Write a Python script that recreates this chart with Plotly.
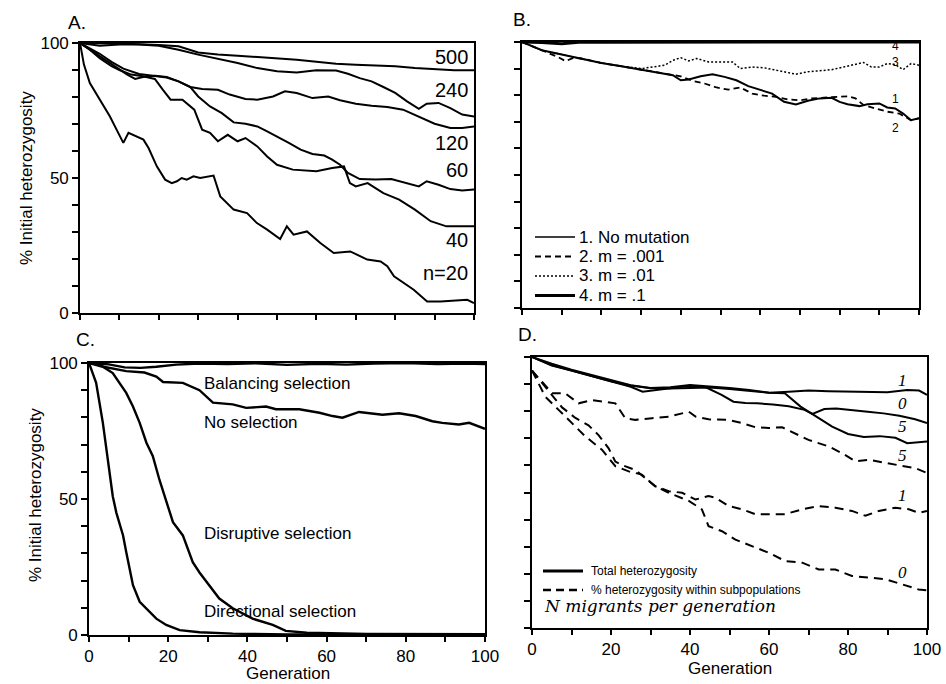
import plotly.graph_objects as go

# ---------------- Panel A: population size ----------------
A_n20_gen = [0, 1, 2.5, 5.1, 7.6, 9.7, 11, 12.3, 14.4, 16.1, 17.4, 19.5, 21.6, 23.3, 24.6, 25.8, 27.1, 28.8, 30.5, 33.9,
             35.6, 39, 42.4, 44.9, 47.5, 50.8, 52.5, 54.2, 57.6, 61, 64.4, 68.6, 72.9, 76.3, 78, 79.7, 84.7, 88.1, 91.5, 98.3, 100]
A_n20 = [100, 92, 85.2, 79, 72.8, 66.7, 63, 66.7, 65.4, 64.2, 61.1, 54.3, 49.4, 48.1, 48.8, 50, 49.4, 50.6, 50, 50.9,
         43.2, 38.3, 37, 33.3, 30.9, 27.4, 32.1, 29, 30.2, 25.9, 22.2, 22.8, 19.8, 19.1, 17.3, 13.6, 8.6, 4.3, 4.3, 4.9, 3.7]

A_n40_gen = [0, 2.5, 5, 8, 10, 13, 16, 19, 21, 23, 26, 29, 31, 33, 35, 37.5, 40, 42, 45, 47.5, 50, 54, 60, 64, 67,
             68.5, 70, 73, 77, 81, 85, 89, 93, 100]
A_n40 = [100, 97.5, 94.4, 91.4, 90, 88.3, 87.7, 86.7, 82.7, 79, 79, 75.3, 67.9, 66.7, 63.6, 66, 63.6, 64.8, 61.7, 58,
         54.9, 53.1, 52.5, 53.7, 54.3, 48.1, 46.9, 48.1, 44.4, 42, 38.3, 34, 32.1, 32.1]

A_n60_gen = [0, 2.5, 5, 8, 11, 15, 19, 22, 25, 28, 30, 33, 36, 39, 42, 45, 47.5, 50, 53, 56, 59, 62, 64, 66, 68, 71,
             75, 79, 83, 86, 88, 91, 94, 97, 100]
A_n60 = [100, 98, 96, 93, 90.5, 88.5, 87.6, 87.2, 85.8, 83.7, 80.2, 76.5, 74, 70.6, 70.1, 69.1, 67.3, 65.4, 63, 60.5,
         58.9, 58.3, 56.8, 54.9, 51.9, 49.6, 49.4, 49.6, 47.9, 46.9, 48.8, 47.5, 45.9, 45.4, 45.7]

A_n120_gen = [0, 2.5, 5, 8, 10, 12, 14, 16, 19, 22, 25, 28, 31, 35, 38, 42, 45, 49, 52, 55, 59, 63, 66, 70, 74, 78,
              82, 86, 90, 94, 97, 100]
A_n120 = [100, 97.5, 95, 92, 90, 88.3, 86.7, 87.4, 87.9, 87.4, 85.8, 83.7, 83, 82.7, 80.9, 79.3, 79, 80.2, 82.1, 81.5,
          79.6, 80.2, 78.8, 77.5, 76.8, 76.3, 75.3, 72.8, 70.1, 68.5, 68.5, 69.1]

A_n240_gen = [0, 5, 10, 15, 20, 25, 30, 35, 40, 45, 50, 55, 60, 65, 68, 71, 74, 77, 80, 83, 86, 88, 91, 94, 97, 100]
A_n240 = [100, 99, 99.4, 99.4, 99, 97.5, 95.7, 94.1, 92.6, 90.7, 89.5, 89.1, 89.9, 89.8, 88.6, 87, 85.8, 83.7, 81.5,
          78.4, 75.6, 77.5, 77.8, 75.9, 73.5, 72.8]

A_n500_gen = [0, 10, 20, 25, 30, 35, 40, 45, 50, 55, 60, 65, 70, 75, 80, 85, 90, 95, 100]
A_n500 = [100, 99.8, 99.3, 98.8, 96.5, 95.7, 95.3, 94.8, 94.4, 93.8, 93.1, 92.3, 91.9, 91.6, 91.4, 90.7, 90.4, 89.9, 89.9]

A_labels = ["500", "240", "120", "60", "40", "n=20"]
A_label_y = [94.8, 82.6, 63, 53, 27, 14.8]

# ---------------- Panel B: mutation ----------------
B_m0_gen = [0, 5, 10, 15, 20, 25, 30, 35, 38, 40, 42, 45, 48, 51, 54, 57, 60, 63, 66, 69, 72, 75, 78, 80, 82, 85, 87,
            90, 92, 94, 96, 98, 100]
B_m0 = [100, 96.9, 95.3, 93.8, 92.1, 90.9, 89.6, 88.4, 87.5, 85.6, 85.9, 87.1, 87.9, 86.9, 85.6, 83.4, 81.9, 80.6, 77.5,
        76.5, 77.9, 78.8, 79, 77.5, 76.6, 75.9, 76.6, 76.9, 75.4, 75, 73.1, 70.6, 71.3]

B_m001_gen = [0, 5, 9, 11, 13, 15, 20, 25, 30, 35, 38, 40, 43, 46, 49, 52, 55, 58, 61, 64, 67, 70, 73, 76, 79, 82, 84,
              86, 89, 92, 95, 98, 100]
B_m001 = [100, 96.9, 94.4, 92.8, 94.1, 93.8, 92.1, 90.9, 89.6, 88.4, 87.5, 87.1, 85.4, 84.4, 82.9, 82.1, 82.9, 80.6,
          79.8, 79.4, 78.4, 78.1, 78.8, 79.1, 79.4, 79.6, 78.8, 76.3, 75, 73.8, 73.1, 70.6, 71.3]

B_m01_gen = [0, 5, 10, 15, 20, 25, 30, 33, 36, 38, 40, 42, 44, 47, 50, 53, 55, 58, 61, 64, 66, 69, 72, 75, 78, 81, 84,
             86, 88, 90, 92, 94, 96, 98, 100]
B_m01 = [100, 96.9, 95.3, 93.8, 92.1, 90.9, 90, 90.6, 91.3, 93.1, 94.1, 92.9, 93.8, 92.5, 92.4, 92.5, 90, 90.6, 90.3,
         89.4, 88.8, 87.9, 88.8, 89.1, 89.6, 90.6, 91.6, 92.3, 90.6, 90.6, 91.9, 91.5, 89.6, 91.9, 91.3]

B_m1_gen = [0, 5, 10, 12, 15, 20, 40, 60, 80, 100]
B_m1 = [100, 99.8, 99.3, 99.5, 100, 99.9, 100, 100, 100, 100]

B_legend = ["1. No mutation", "2. m = .001", "3. m = .01", "4. m = .1"]
B_curve_labels = ["4", "3", "1", "2"]
B_label_y = [98.6, 92.6, 78.6, 67.7]

# ---------------- Panel C: selection ----------------
C_bal_gen = [0, 5, 9, 13, 17, 22, 28, 35, 42, 50, 58, 65, 72, 80, 88, 95, 100]
C_bal = [100, 99.5, 98.4, 98.2, 98.6, 99.4, 99.8, 99.6, 99.9, 99.3, 99.7, 99.4, 99.8, 100, 99.6, 99.8, 99.6]

C_none_gen = [0, 3, 9.4, 14, 17, 18.7, 23.7, 27.9, 31.3, 36.3, 39.7, 44.7, 47.2, 53.1, 58.2, 61.5, 64, 68.2, 74.1,
              78.3, 82.5, 86.7, 89.2, 93.4, 96, 100]
C_none = [100, 98.8, 97, 96.5, 95, 93, 92.7, 90, 85.4, 84.8, 83.5, 84, 83, 83, 81.7, 80.5, 79.9, 82, 81, 81.5, 80.5,
          78.6, 78, 77.4, 78, 75.8]

C_disr_gen = [0, 2.7, 6, 9.4, 11.1, 12.8, 14.5, 16.1, 17.8, 19.5, 21.2, 23.7, 26.2, 27.9, 30.4, 32.9, 36.3, 41.3,
              46.4, 49.7, 55, 70, 100]
C_disr = [100, 99.4, 96.3, 89, 84, 78, 70.7, 65.8, 57, 48.8, 41.5, 36.6, 26.8, 23, 18, 13.4, 9.8, 6, 3.7, 1.5, 0.8,
          0.4, 0.3]

C_dirn_gen = [0, 1.8, 3.5, 4.4, 5.2, 6, 6.9, 8.6, 9.4, 10.3, 11.1, 12.8, 14.5, 17, 19.5, 22.9, 27.9, 36.3, 50, 100]
C_dirn = [100, 92.7, 78, 68, 59.8, 51, 45, 36.6, 30.5, 24.4, 18.3, 12.2, 9.8, 6, 3.7, 1.8, 1, 0.5, 0.2, 0.2]

C_labels = ["Balancing selection", "No selection", "Disruptive selection", "Directional selection"]
C_label_y = [92.6, 78.3, 37.5, 8.5]

# ---------------- Panel D: migration ----------------
D_tot1_gen = [0, 5, 10, 15, 20, 25, 30, 35, 40, 45, 50, 55, 60, 65, 70, 75, 80, 85, 90, 95, 98, 100]
D_tot1 = [100, 97.5, 95.3, 93.4, 91.5, 89.6, 88.6, 88.8, 89.7, 89.2, 88.6, 87.8, 86.8, 87.2, 87.6, 87.4, 87.2, 87,
          87, 87.8, 87.6, 86]

D_tot0_gen = [0, 5, 10, 15, 20, 25, 28, 32, 36, 40, 44, 48, 51, 54, 57, 61, 65, 69, 71, 74, 77, 81, 85, 89, 93, 97, 100]
D_tot0 = [100, 96.8, 95, 93, 91, 89, 87.2, 88, 88.6, 89.4, 88.8, 86, 83.5, 83, 82.9, 82.5, 81.8, 80.5, 79, 80.8, 81,
          80.3, 79.8, 79.2, 78.3, 77, 75.6]

D_tot5_gen = [0, 5, 10, 15, 20, 25, 30, 35, 40, 45, 50, 55, 60, 64, 68, 72, 76, 80, 84, 88, 92, 95, 98, 100]
D_tot5 = [100, 97, 95, 93, 91, 89.5, 88.5, 88.4, 88.6, 88.7, 88.2, 87.4, 86.8, 86.6, 81.7, 78, 74.3, 71.6, 70.5,
          70.8, 70.2, 68.2, 68.6, 68.8]

D_sub5_gen = [0, 5.1, 8.4, 11.8, 15.2, 17.7, 21.1, 23.6, 26.2, 30.4, 34.6, 38, 39.7, 41.4, 44.7, 49.8, 53.2, 56.5,
              59.9, 63.3, 66.7, 70, 75.1, 78.5, 81.9, 85.2, 89.5, 93.7, 97, 100]
D_sub5 = [95, 86.6, 86.6, 82.9, 84.1, 83.5, 82.9, 77.4, 76.8, 77.4, 78, 79.2, 79.8, 78, 77, 76.8, 75.6, 74.1, 73.8,
          74.1, 71.6, 69.4, 67, 64.5, 61.5, 62.1, 60.9, 59.7, 59, 57.2]

D_sub1_gen = [0, 4.2, 7.6, 11, 14.3, 16.9, 19.4, 21.1, 22.8, 26.2, 29.5, 31.2, 34.6, 38, 41.4, 44.7, 46.4, 49.8, 53.2,
              56.5, 59.9, 64.1, 68.4, 72.6, 76.8, 81, 84.4, 87.8, 92, 95.4, 97.9, 100]
D_sub1 = [95, 87.7, 81.4, 77.5, 74.8, 71.1, 66.3, 61.4, 60.1, 58.3, 54.2, 52.3, 50.5, 49.9, 47.4, 48.7, 48.1, 45,
          43.8, 42, 42, 42, 43.8, 45, 44.4, 43.2, 41.4, 43.2, 44.4, 43.8, 42.5, 43.2]

D_sub0_gen = [0, 3.4, 6.8, 10.1, 13.5, 17.7, 21.1, 24.5, 27.8, 31.2, 34.6, 39.7, 43, 44.7, 48.1, 51.5, 55.7, 59.9,
              64.1, 68.4, 72.6, 76.8, 81, 85.2, 89.5, 93.7, 97.9, 100]
D_sub0 = [95, 85.3, 80.4, 75.6, 70.7, 65.8, 59.7, 57.8, 56.6, 52.3, 49.9, 46.9, 43.8, 37.6, 35.7, 32.6, 30.2, 27.8,
          24.7, 24.1, 21.6, 21.6, 19.2, 18.6, 18, 16.1, 14.2, 13.9]

D_labels = ["1", "0", "5", "5", "1", "0"]
D_label_y = [91.5, 83, 74.2, 63.8, 49, 20.3]
D_legend = ["Total heterozygosity", "% heterozygosity within subpopulations"]

# ---------------- figure ----------------
W, H = 946, 684
def px(x): return x / W
def py(y): return 1 - y / H

SANS = "Liberation Sans, Arial, Helvetica, sans-serif"
fig = go.Figure()

def add(xs, ys, ax, dash="solid", width=2.0):
    fig.add_trace(go.Scatter(x=xs, y=ys, xaxis="x" + ax, yaxis="y" + ax, mode="lines",
                             line=dict(color="black", width=width, dash=dash, shape="linear"),
                             showlegend=False, hoverinfo="skip"))

# A
for g, v in [(A_n500_gen, A_n500), (A_n240_gen, A_n240), (A_n120_gen, A_n120),
             (A_n60_gen, A_n60), (A_n40_gen, A_n40), (A_n20_gen, A_n20)]:
    add(g, v, "", width=2.0)
# B
add(B_m0_gen, B_m0, "2", "solid", 2.0)
add(B_m001_gen, B_m001, "2", "6px,4px", 1.8)
add(B_m01_gen, B_m01, "2", "2px,2px", 1.5)
add(B_m1_gen, B_m1, "2", "solid", 3.0)
# C
for g, v in [(C_bal_gen, C_bal), (C_none_gen, C_none), (C_disr_gen, C_disr), (C_dirn_gen, C_dirn)]:
    add(g, v, "3", width=2.4)
# D
for g, v in [(D_tot1_gen, D_tot1), (D_tot0_gen, D_tot0), (D_tot5_gen, D_tot5)]:
    add(g, v, "4", "solid", 2.0)
for g, v in [(D_sub5_gen, D_sub5), (D_sub1_gen, D_sub1), (D_sub0_gen, D_sub0)]:
    add(g, v, "4", "9px,6px", 2.0)

tickfont = dict(family=SANS, size=17, color="black")

def xaxis(domain, anchor, labels):
    return dict(domain=domain, anchor=anchor, range=[0, 100], showgrid=False, zeroline=False,
                showline=True, linecolor="black", linewidth=1.6, mirror=True,
                ticks="outside", ticklen=5, tickwidth=1.5, tickcolor="black", tick0=0, dtick=20,
                minor=dict(dtick=10, ticks="outside", ticklen=5, tickwidth=1.5, tickcolor="black"),
                showticklabels=labels, tickfont=tickfont, fixedrange=True, automargin=False)

def yaxis(domain, anchor, labels):
    return dict(domain=domain, anchor=anchor, range=[0, 100], showgrid=False, zeroline=False,
                showline=True, linecolor="black", linewidth=1.6, mirror=True,
                ticks="outside", ticklen=6, tickwidth=1.5, tickcolor="black", tick0=0, dtick=50,
                minor=dict(dtick=10, ticks="outside", ticklen=6, tickwidth=1.5, tickcolor="black"),
                showticklabels=labels, tickfont=tickfont, fixedrange=True, automargin=False)

fig.update_layout(
    width=W, height=H, margin=dict(l=0, r=0, t=0, b=0, pad=0, autoexpand=False),
    paper_bgcolor="white", plot_bgcolor="white", showlegend=False,
    xaxis=xaxis([px(80), px(474)], "y", False),
    yaxis=yaxis([py(313), py(43)], "x", True),
    xaxis2=xaxis([px(522), px(919)], "y2", False),
    yaxis2=yaxis([py(308), py(42)], "x2", False),
    xaxis3=xaxis([px(89), px(485)], "y3", True),
    yaxis3=yaxis([py(635), py(363)], "x3", True),
    xaxis4=xaxis([px(532), px(927)], "y4", True),
    yaxis4=yaxis([py(628), py(357)], "x4", False),
)

ann = []
def text(x, y, t, size=17, xanchor="center", xref="paper", yref="paper", angle=0, family=SANS, italic=False,
         yanchor="middle"):
    tt = "<i>" + t + "</i>" if italic else t
    ann.append(dict(x=x, y=y, xref=xref, yref=yref, text=tt, showarrow=False, xanchor=xanchor, yanchor=yanchor,
                    textangle=angle, font=dict(family=family, size=size, color="black")))

# panel letters
for lab, x, y in [("A.", 77, 22), ("B.", 522, 20), ("C.", 85, 339), ("D.", 527, 334)]:
    text(px(x), py(y), lab, size=19)
# axis titles
text(px(26), py(178), "% Initial heterozygosity", size=17, angle=-90)
text(px(35), py(495), "% Initial heterozygosity", size=17, angle=-90)
text(px(288), py(673), "Generation", size=17)
text(px(730), py(668), "Generation", size=17)

# panel A curve labels
for t, yv in zip(A_labels, A_label_y):
    text(99, yv, t, size=20, xanchor="right", xref="x", yref="y")
# panel B curve labels
for t, yv in zip(B_curve_labels, B_label_y):
    text(94, yv, t, size=12, xref="x2", yref="y2")
# panel C labels
for t, yv in zip(C_labels, C_label_y):
    text(28.5, yv, t, size=17, xanchor="left", xref="x3", yref="y3")
# panel D labels
for t, yv in zip(D_labels, D_label_y):
    text(93.8, yv, t, size=17, xref="x4", yref="y4", family="Liberation Serif, Times New Roman, serif", italic=True)

# legend B
shapes = []
B_dash = ["solid", "6px,4px", "2px,2px", "solid"]
B_w = [1.6, 2.2, 1.6, 3.0]
B_rows = [237, 256.5, 276, 295.5]
for t, d, w, yy in zip(B_legend, B_dash, B_w, B_rows):
    shapes.append(dict(type="line", xref="paper", yref="paper", x0=px(535), x1=px(575), y0=py(yy), y1=py(yy),
                       line=dict(color="black", width=w, dash=d)))
    text(px(577), py(yy), t, size=17, xanchor="left")

# legend D
for t, d, w, yy in zip(D_legend, ["solid", "8px,5px"], [3.0, 2.4], [571, 590]):
    shapes.append(dict(type="line", xref="paper", yref="paper", x0=px(543), x1=px(583), y0=py(yy), y1=py(yy),
                       line=dict(color="black", width=w, dash=d)))
    text(px(589), py(yy), t, size=12, xanchor="left")
text(px(542), py(606), "N migrants per generation", size=17, xanchor="left",
     family="DejaVu Serif, serif", italic=True)

fig.update_layout(annotations=ann, shapes=shapes)
fig.write_html("out.html")
